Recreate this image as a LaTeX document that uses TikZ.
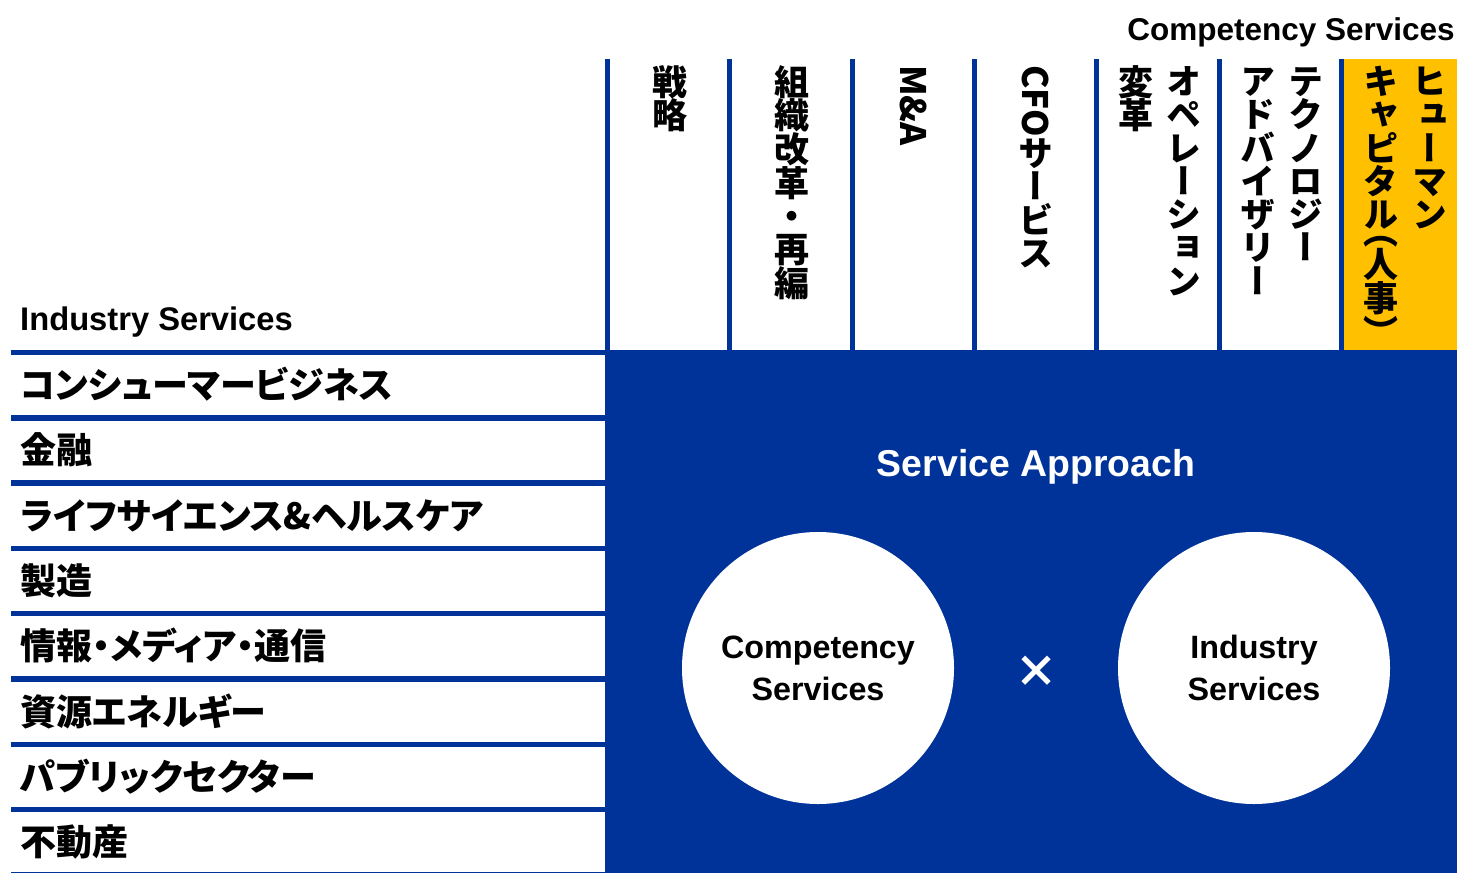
\documentclass[tikz,border=0pt]{standalone}
\usepackage{graphicx}
\usepackage{fontspec}
\setmainfont{Noto Sans CJK JP}
\newfontfamily\tatefont{Noto Sans CJK JP}[RawFeature=+vert]
\newfontfamily\yokofont{Noto Sans CJK JP}[RawFeature=+palt]
\newfontfamily\latfont{Liberation Sans}
\definecolor{sablue}{RGB}{0,51,153}
\definecolor{sayellow}{RGB}{255,192,0}

% tategaki: one glyph per box, brackets take half a box
\def\tateloop#1{%
  \ifx\relax#1\else
    \ifx（#1\hbox to 1em{\vrule height .36em depth .12em width 0pt\hss\smash{#1}\hss}%
    \else\ifx）#1\hbox to 1em{\vrule height .48em depth 0pt width 0pt\hss\smash{\lower.38em\hbox{#1}}\hss}%
    \else\hbox to 1em{\vrule height .84em depth .11em width 0pt\hss#1\hss}\fi\fi
    \expandafter\tateloop
  \fi}
\newcommand\tate[2][]{\vbox{\offinterlineskip\tatefont#1\tateloop#2\relax}}
\newcommand\tatelat[1]{\hbox to 1em{\hss\rotatebox{-90}{#1}\hss}}

\begin{document}
\begin{tikzpicture}[x=1pt,y=-1pt,
  jp/.style={font=\yokofont\bfseries\fontsize{36}{40}\selectfont},
  lat/.style={font=\latfont\bfseries\fontsize{#1}{42}\selectfont},
  lat/.default=32.3,
  rowlabel/.style={jp, anchor=base west, inner sep=0pt},
  tatecol/.style={font=\bfseries\fontsize{35}{35}\selectfont, anchor=north, inner sep=0pt},
  bar/.style={sablue, line width=5.5pt},
  ring/.style={circle, fill=white, minimum size=272pt, inner sep=0pt, lat, align=center}]

\useasboundingbox (0,0) rectangle (1457,873);

% blue block and yellow column
\fill[sablue] (605,350) rectangle (1457,873);
\fill[sayellow] (1341,59) rectangle (1457,350);

% grid
\foreach \x in {607.5,729.8,852.1,974.4,1096.7,1219,1341.3}
  \draw[bar, line width=5pt] (\x,59) -- (\x,352);
\foreach \y in {352.5,417.8,483.1,548.4,613.7,679,744.3,809.6,874.9}
  \draw[bar] (11,\y) -- (606,\y);

% headings
\node (comphead) [lat=31.5, anchor=base east, inner sep=0pt] at (1455,40) {Competency Services};
\node (indhead) [lat=32.7, anchor=base west, inner sep=0pt] at (20,330) {Industry Services};

% competency columns
\node (senryaku) [tatecol] at (670,65) {\tate{戦略}};
\node (soshiki) [tatecol] at (792,65) {\tate{組織改革・再編}};
\node (ma) [tatecol] at (914,65) {\tate[\tatelat{M\&A}]{}};
\node (cfo) [tatecol] at (1036,65) {\tate[\tatelat{CFO}]{サービス}};
\node (ope) [tatecol] at (1184,65) {\tate{オペレーション}};
\node (henkaku) [tatecol] at (1136,65) {\tate{変革}};
\node (tech) [tatecol] at (1306,65) {\tate{テクノロジー}};
\node (advisory) [tatecol] at (1258,65) {\tate{アドバイザリー}};
\node (human) [tatecol] at (1430,65) {\tate{ヒューマン}};
\node (capital) [tatecol] at (1381,65) {\tate{キャピタル（人事）}};

% industry rows
\node (r1) [rowlabel] at (20,398) {コンシューマービジネス};
\node (r2) [rowlabel] at (20,463) {金融};
\node (r3) [rowlabel] at (20,529) {ライフサイエンス\&ヘルスケア};
\node (r4) [rowlabel] at (20,594) {製造};
\node (r5) [rowlabel] at (20,659.5) {情報・メディア・通信};
\node (r6) [rowlabel] at (20,725) {資源エネルギー};
\node (r7) [rowlabel] at (20,790) {パブリックセクター};
\node (r8) [rowlabel] at (20,855.5) {不動産};

% service approach
\node (approach) [lat=37.4, anchor=base, text=white, inner sep=0pt] at (1036,476) {Service Approach};
\node (compc) [ring] at (818,668) {Competency\\Services};
\node (indc) [ring] at (1254,668) {Industry\\Services};
\node (times) [text=white, font=\bfseries\fontsize{44}{44}\selectfont] at (1036,672) {×};
\end{tikzpicture}
\end{document}
